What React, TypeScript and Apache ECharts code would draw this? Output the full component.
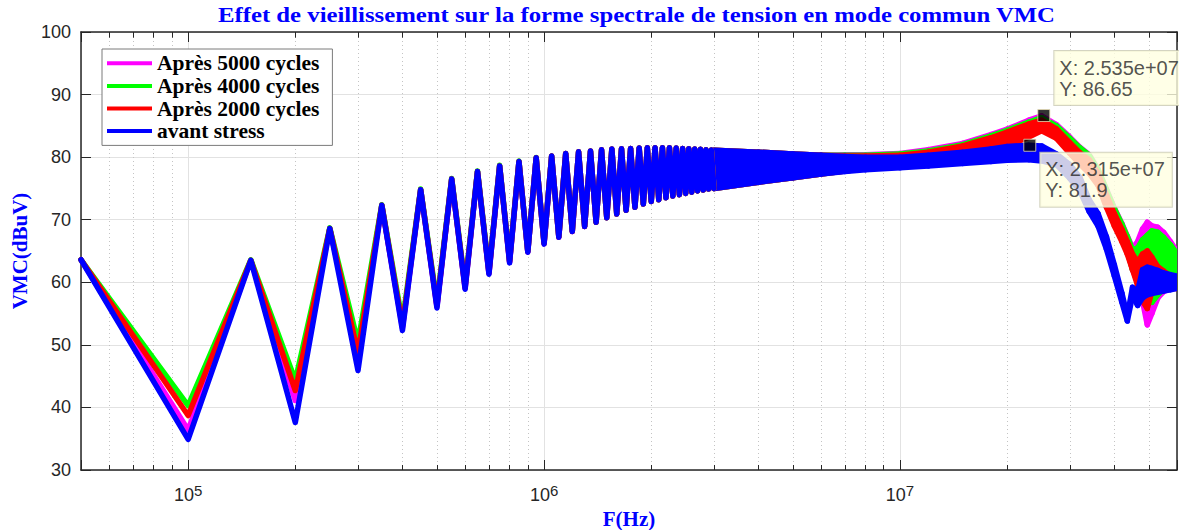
import React, { useEffect, useRef } from 'react';
import * as echarts from 'echarts';

// ---------- texts ----------
const TITLE = 'Effet de vieillissement sur la forme spectrale de tension en mode commun VMC';
const X_NAME = 'F(Hz)';
const Y_NAME = 'VMC(dBuV)';
const SERIES_NAMES = ['Après 5000 cycles', 'Après 4000 cycles', 'Après 2000 cycles', 'avant stress'];
const SERIES_COLORS = ['#ff00ff', '#00ff00', '#ff0000', '#0000ff'];

// ---------- axes ----------
const X_MIN = 5e4;
const X_MAX = 6e7;
const Y_MIN = 30;
const Y_MAX = 100;
const Y_STEP = 10;
const MINOR_F = [6e4, 7e4, 8e4, 9e4, 2e5, 3e5, 4e5, 5e5, 6e5, 7e5, 8e5, 9e5, 2e6, 3e6, 4e6, 5e6, 6e6, 7e6, 8e6, 9e6, 2e7, 3e7, 4e7, 5e7];

// ---------- harmonic zigzag region (kHz) ----------
const ZIG_F_KHZ = [
  50, 100, 150, 200, 250, 300, 350, 400, 450, 500,
  550, 600, 650, 700, 750, 800, 850, 900, 950, 1000,
  1050, 1100, 1150, 1200, 1250, 1300, 1350, 1400, 1450, 1500,
  1550, 1600, 1650, 1700, 1750, 1800, 1850, 1900, 1950, 2000,
  2050, 2100, 2150, 2200, 2250, 2300, 2350, 2400, 2450, 2500,
  2550, 2600, 2650, 2700, 2750, 2800, 2850, 2900, 2950, 3000,
];
const ZIG_M = [
  63.6, 36.4, 63.5, 41.1, 68.6, 48.4, 72.3, 52.7, 74.8, 56.1,
  76.5, 59.0, 77.7, 61.4, 78.6, 63.2, 79.3, 64.85, 79.9, 66.15,
  80.2, 67.2, 80.6, 68.1, 80.85, 68.9, 81.0, 69.6, 81.2, 70.3,
  81.3, 70.9, 81.35, 71.5, 81.4, 72.0, 81.45, 72.5, 81.5, 72.9,
  81.5, 73.2, 81.5, 73.5, 81.5, 73.8, 81.45, 74.0, 81.4, 74.2,
  81.35, 74.4, 81.3, 74.6, 81.25, 74.75, 81.2, 74.9, 81.15, 75.0,
];
const ZIG_G = [
  63.6, 40.3, 63.6, 44.3, 68.7, 50.4, 72.4, 53.6, 74.9, 56.7,
  76.6, 59.5, 77.8, 61.8, 78.7, 63.5, 79.4, 65.0, 79.95, 66.3,
  80.2, 67.3, 80.6, 68.2, 80.85, 68.95, 81.0, 69.6, 81.2, 70.3,
  81.3, 70.9, 81.35, 71.5, 81.4, 72.0, 81.45, 72.5, 81.5, 72.9,
  81.5, 73.2, 81.5, 73.5, 81.5, 73.8, 81.45, 74.0, 81.4, 74.2,
  81.35, 74.4, 81.3, 74.6, 81.25, 74.75, 81.2, 74.9, 81.15, 75.0,
];
const ZIG_R = [
  63.6, 38.7, 63.5, 42.7, 68.6, 48.7, 72.3, 53.0, 74.8, 56.3,
  76.5, 59.2, 77.7, 61.5, 78.6, 63.3, 79.3, 64.9, 79.9, 66.2,
  80.2, 67.25, 80.6, 68.1, 80.85, 68.9, 81.0, 69.6, 81.2, 70.3,
  81.3, 70.9, 81.35, 71.5, 81.4, 72.0, 81.45, 72.5, 81.5, 72.9,
  81.5, 73.2, 81.5, 73.5, 81.5, 73.8, 81.45, 74.0, 81.4, 74.2,
  81.35, 74.4, 81.3, 74.6, 81.25, 74.75, 81.2, 74.9, 81.15, 75.0,
];
const ZIG_B = [
  63.6, 34.9, 63.5, 37.6, 68.6, 45.9, 72.3, 52.3, 74.8, 55.9,
  76.5, 58.9, 77.7, 61.3, 78.6, 63.1, 79.3, 64.8, 79.9, 66.1,
  80.2, 67.2, 80.6, 68.1, 80.85, 68.9, 81.0, 69.6, 81.2, 70.3,
  81.3, 70.9, 81.35, 71.5, 81.4, 72.0, 81.45, 72.5, 81.5, 72.9,
  81.5, 73.2, 81.5, 73.5, 81.5, 73.8, 81.45, 74.0, 81.4, 74.2,
  81.35, 74.4, 81.3, 74.6, 81.25, 74.75, 81.2, 74.9, 81.15, 75.0,
];

// ---------- dense region: envelope of the fast oscillation (MHz) ----------
const BAND_F_MHZ = [3, 4, 5, 6, 7, 8, 10, 12, 15, 18, 20, 23, 25, 27.5, 30, 32, 34, 36, 38, 40, 42, 43.5, 45, 46.5, 48, 49.5, 51, 53, 55, 57.5, 60];
const BAND_M_LO = [75.0, 76.0, 76.7, 77.3, 77.8, 78.2, 78.9, 79.4, 80.1, 81.1, 82.0, 83.5, 84.5, 83.3, 81.0, 79.3, 78.0, 75.9, 72.6, 69.6, 67.1, 65.0, 62.0, 60.0, 57.0, 53.2, 55.0, 57.5, 58.5, 59.0, 59.6];
const BAND_M_HI = [81.1, 80.8, 80.5, 80.3, 80.4, 80.4, 80.6, 81.2, 82.2, 83.6, 84.5, 85.9, 86.6, 85.2, 83.2, 81.6, 80.4, 78.1, 74.9, 71.9, 69.4, 67.4, 65.5, 66.5, 68.5, 69.6, 69.0, 68.8, 68.0, 66.5, 64.9];
const BAND_G_LO = [75.0, 76.0, 76.7, 77.3, 77.8, 78.2, 78.9, 79.4, 80.1, 81.1, 81.9, 83.4, 84.4, 83.2, 80.9, 79.2, 77.9, 75.8, 72.5, 69.5, 67.0, 65.0, 62.0, 61.0, 60.0, 58.5, 56.8, 58.0, 58.8, 59.4, 59.8];
const BAND_G_HI = [81.1, 80.8, 80.5, 80.3, 80.3, 80.3, 80.5, 81.0, 82.0, 83.4, 84.3, 85.6, 86.3, 85.0, 83.0, 81.5, 80.3, 78.0, 74.8, 71.8, 69.3, 67.3, 65.2, 65.5, 66.8, 67.5, 68.2, 68.0, 67.2, 66.0, 64.6];
const BAND_R_LO = [75.0, 76.0, 76.7, 77.3, 77.8, 78.2, 78.8, 79.3, 80.0, 81.0, 81.8, 83.2, 84.2, 83.0, 80.6, 78.9, 77.4, 75.5, 72.0, 69.0, 66.5, 64.5, 62.0, 59.5, 57.0, 55.8, 58.5, 59.3, 59.2, 59.0, 59.0];
const BAND_R_HI = [81.1, 80.8, 80.5, 80.3, 80.2, 80.2, 80.3, 80.8, 81.8, 83.1, 84.0, 85.3, 85.9, 84.5, 82.3, 80.7, 79.6, 77.5, 74.0, 71.0, 68.5, 66.5, 64.5, 63.3, 64.5, 65.0, 64.0, 62.5, 61.8, 61.0, 60.8];
const BAND_B_LO = [75.0, 76.0, 76.7, 77.3, 77.7, 78.0, 78.3, 78.6, 79.0, 79.3, 79.5, 79.6, 79.4, 78.8, 76.6, 74.6, 71.3, 69.0, 65.3, 61.0, 56.8, 53.8, 57.8, 56.3, 57.5, 58.0, 58.2, 58.4, 58.6, 58.8, 59.0];
const BAND_B_HI = [81.1, 80.8, 80.5, 80.3, 80.1, 80.0, 80.0, 80.3, 80.8, 81.3, 81.7, 81.9, 81.8, 80.5, 78.8, 76.8, 73.2, 71.0, 67.3, 62.8, 58.3, 54.6, 59.2, 58.5, 62.0, 62.4, 62.2, 61.9, 61.5, 61.2, 61.0];

// ---------- data tips ----------
const TIP_X = [2.535e7, 2.315e7];
const TIP_Y = [86.65, 81.9];

const ZIGS = [ZIG_M, ZIG_G, ZIG_R, ZIG_B];
const BANDS_LO = [BAND_M_LO, BAND_G_LO, BAND_R_LO, BAND_B_LO];
const BANDS_HI = [BAND_M_HI, BAND_G_HI, BAND_R_HI, BAND_B_HI];

const SERIF = '"Liberation Serif", "Times New Roman", serif';
const SANS = '"Liberation Sans", Arial, Helvetica, sans-serif';
const AXIS_COLOR = '#262626';
const LINE_W = 5.5;

function buildOption() {
  const series: any[] = [];

  // helper series: minor grid lines and minor ticks
  const minorGrid = MINOR_F.map((f) => ({ xAxis: f }));
  const minorTicks: any[] = [];
  MINOR_F.forEach((f) => {
    minorTicks.push([{ coord: [f, Y_MIN] }, { coord: [f, Y_MIN + 0.8] }]);
    minorTicks.push([{ coord: [f, Y_MAX] }, { coord: [f, Y_MAX - 0.9] }]);
  });
  series.push({
    type: 'line',
    name: '_minorgrid',
    data: [[X_MIN, Y_MIN]],
    showSymbol: false,
    silent: true,
    lineStyle: { opacity: 0 },
    markLine: {
      silent: true,
      symbol: ['none', 'none'],
      z: 1,
      label: { show: false },
      lineStyle: { color: '#c4c4c4', width: 1, type: [1, 3] },
      data: minorGrid,
      animation: false,
    },
  });
  series.push({
    type: 'line',
    name: '_minorticks',
    data: [[X_MIN, Y_MIN]],
    showSymbol: false,
    silent: true,
    lineStyle: { opacity: 0 },
    markLine: {
      silent: true,
      symbol: ['none', 'none'],
      z: 1,
      label: { show: false },
      lineStyle: { color: AXIS_COLOR, width: 1, type: 'solid' },
      data: minorTicks,
      animation: false,
    },
  });

  SERIES_NAMES.forEach((name, s) => {
    const color = SERIES_COLORS[s];
    series.push({
      type: 'line',
      name,
      color,
      data: ZIG_F_KHZ.map((f, i) => [f * 1000, ZIGS[s][i]]),
      showSymbol: false,
      silent: true,
      clip: true,
      itemStyle: { color },
      lineStyle: { color, width: LINE_W, join: 'round', cap: 'round' },
    });
    const lo = BANDS_LO[s];
    const hi = BANDS_HI[s];
    const n = BAND_F_MHZ.length;
    series.push({
      type: 'custom',
      name,
      color,
      silent: true,
      clip: true,
      data: BAND_F_MHZ.map((f, i) => [f * 1e6, lo[i], hi[i]]),
      encode: { x: 0, y: [1, 2] },
      renderItem: (params: any, api: any) => {
        const i = params.dataIndexInside;
        if (i >= n - 1) return null;
        const f0 = api.value(0, i);
        const f1 = api.value(0, i + 1);
        const pts = [
          api.coord([f0, api.value(1, i)]),
          api.coord([f0, api.value(2, i)]),
          api.coord([f1, api.value(2, i + 1)]),
          api.coord([f1, api.value(1, i + 1)]),
        ];
        return {
          type: 'polygon',
          shape: { points: pts },
          style: { fill: color, stroke: color, lineWidth: LINE_W, lineJoin: 'round' },
        };
      },
    });
  });

  const tipLabelBase = {
    show: true,
    fontFamily: SANS,
    fontSize: 20,
    lineHeight: 21,
    color: '#262626',
    backgroundColor: '#ffffe1',
    borderColor: '#c9c9b2',
    borderWidth: 1,
    padding: [6, 7, 6, 5],
    align: 'left',
    verticalAlign: 'top',
    formatter: (p: any) => {
      const x = Number(p.value[0]).toExponential(3).replace(/e\+(\d)$/, 'e+0$1');
      return `X: ${x}\nY: ${p.value[1]}`;
    },
  };
  series.push({
    type: 'scatter',
    name: '_tips',
    silent: true,
    z: 10,
    symbol: 'rect',
    symbolSize: 12,
    itemStyle: { color: '#000', borderColor: '#e6dcb4', borderWidth: 1 },
    data: [
      { value: [TIP_X[0], TIP_Y[0]], label: { ...tipLabelBase, position: [17, -58] } },
      { value: [TIP_X[1], TIP_Y[1]], label: { ...tipLabelBase, position: [17, 14] } },
    ],
  });

  const xLabelFormatter = (v: number) => {
    const e = Math.log10(v);
    if (Math.abs(e - Math.round(e)) < 1e-6) return `{b|10}{s|${Math.round(e)}}`;
    return '';
  };

  return {
    animation: false,
    backgroundColor: '#ffffff',
    grid: { left: 81, right: 2, top: 32, bottom: 60, containLabel: false, outerBoundsMode: 'none' },
    graphic: [
      {
        type: 'text',
        x: 636.5,
        y: 15,
        scaleX: 1.237,
        silent: true,
        style: {
          text: TITLE,
          font: `bold 20px ${SERIF}`,
          fill: '#0000ff',
          textAlign: 'center',
          align: 'center',
          textVerticalAlign: 'middle',
          verticalAlign: 'middle',
        },
      },
    ],
    legend: {
      orient: 'vertical',
      left: 102,
      top: 49,
      padding: [3, 13, 3, 5],
      itemGap: 0,
      itemWidth: 45,
      itemHeight: 4,
      icon: 'rect',
      selectedMode: false,
      backgroundColor: '#ffffff',
      borderColor: '#7a7a7a',
      borderWidth: 1,
      textStyle: { fontFamily: SERIF, fontWeight: 'bold', fontSize: 21.5, color: '#000', lineHeight: 22.6 },
      data: SERIES_NAMES.map((n, i) => ({ name: n, itemStyle: { color: SERIES_COLORS[i] } })),
    },
    xAxis: [
      {
        type: 'log',
        logBase: 10,
        min: X_MIN,
        max: X_MAX,
        position: 'bottom',
        name: X_NAME,
        nameLocation: 'middle',
        nameGap: 35,
        nameTextStyle: { fontFamily: SERIF, fontWeight: 'bold', fontSize: 21, lineHeight: 21, color: '#0000ff' },
        axisLine: { show: true, lineStyle: { color: AXIS_COLOR, width: 1.5 } },
        axisTick: { show: true, inside: true, length: 10, lineStyle: { color: AXIS_COLOR, width: 1 } },
        axisLabel: {
          show: true,
          margin: 13,
          color: AXIS_COLOR,
          formatter: xLabelFormatter,
          rich: {
            b: { fontFamily: SANS, fontSize: 18, color: AXIS_COLOR },
            s: { fontFamily: SANS, fontSize: 15, color: AXIS_COLOR, padding: [0, 0, 9, 0] },
          },
        },
        splitLine: { show: true, lineStyle: { color: '#e2e2e2', width: 1 } },
      },
      {
        type: 'log',
        logBase: 10,
        min: X_MIN,
        max: X_MAX,
        position: 'top',
        axisLine: { show: true, lineStyle: { color: AXIS_COLOR, width: 1.5 } },
        axisTick: { show: true, inside: true, length: 10, lineStyle: { color: AXIS_COLOR, width: 1 } },
        axisLabel: { show: false },
        splitLine: { show: false },
      },
    ],
    yAxis: [
      {
        type: 'value',
        min: Y_MIN,
        max: Y_MAX,
        interval: Y_STEP,
        position: 'left',
        name: Y_NAME,
        nameLocation: 'middle',
        nameGap: 50,
        nameTextStyle: { fontFamily: SERIF, fontWeight: 'bold', fontSize: 21, color: '#0000ff' },
        axisLine: { show: true, lineStyle: { color: AXIS_COLOR, width: 1.5 } },
        axisTick: { show: true, inside: true, length: 10, lineStyle: { color: AXIS_COLOR, width: 1 } },
        axisLabel: { show: true, margin: 10, fontFamily: SANS, fontSize: 18, color: AXIS_COLOR },
        splitLine: { show: true, lineStyle: { color: '#e2e2e2', width: 1 } },
      },
      {
        type: 'value',
        min: Y_MIN,
        max: Y_MAX,
        interval: Y_STEP,
        position: 'right',
        axisLine: { show: true, lineStyle: { color: AXIS_COLOR, width: 1.5 } },
        axisTick: { show: true, inside: true, length: 10, lineStyle: { color: AXIS_COLOR, width: 1 } },
        axisLabel: { show: false },
        splitLine: { show: false },
      },
    ],
    series,
  };
}

export default function App() {
  const ref = useRef<HTMLDivElement>(null);
  useEffect(() => {
    if (!ref.current) return;
    const chart = echarts.init(ref.current, undefined, { renderer: 'svg', width: 1179, height: 530 });
    chart.setOption(buildOption() as any);
    return () => chart.dispose();
  }, []);
  return (
    <div
      ref={ref}
      style={{ position: 'fixed', left: 0, top: 0, width: 1179, height: 530, background: '#ffffff' }}
    />
  );
}
